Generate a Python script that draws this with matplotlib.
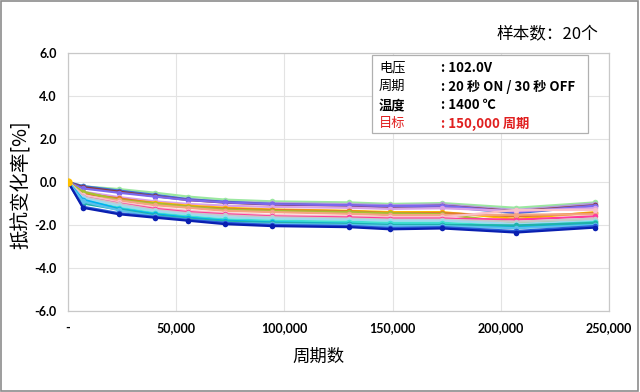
import matplotlib
matplotlib.use('Agg')
import matplotlib.pyplot as plt
from matplotlib.patches import Rectangle
from matplotlib.ticker import FuncFormatter, MultipleLocator

plt.rcParams['font.family'] = ['Noto Sans CJK SC', 'DejaVu Sans']

cycles = [0, 6900, 23600, 40300, 55600, 72700, 94400, 130000, 149000, 173000, 207000, 243500]

series = {
    '#9be8a0': [0, -0.20, -0.33, -0.50, -0.68, -0.82, -0.90, -0.95, -1.02, -0.98, -1.20, -0.95],
    '#b39ddb': [0, -0.28, -0.42, -0.62, -0.80, -0.92, -0.98, -1.03, -1.08, -1.04, -1.30, -1.00],
    '#3f6fd8': [0, -0.19, -0.40, -0.60, -0.80, -0.92, -1.02, -1.10, -1.18, -1.14, -1.45, -1.12],
    '#8b3a3a': [0, -0.24, -0.45, -0.66, -0.84, -0.96, -1.05, -1.10, -1.15, -1.10, -1.36, -1.08],
    '#7b68ee': [0, -0.30, -0.50, -0.68, -0.84, -0.95, -1.03, -1.08, -1.12, -1.10, -1.40, -1.10],
    '#d9a0e8': [0, -0.45, -0.70, -0.90, -1.02, -1.10, -1.16, -1.20, -1.25, -1.22, -1.35, -1.22],
    '#ffc000': [0, -0.50, -0.80, -0.96, -1.10, -1.20, -1.28, -1.34, -1.40, -1.40, -1.72, -1.40],
    '#e07b2a': [0, -0.55, -0.76, -1.00, -1.14, -1.24, -1.30, -1.36, -1.44, -1.44, -1.60, -1.45],
    '#a8c030': [0, -0.45, -0.84, -1.00, -1.15, -1.28, -1.35, -1.40, -1.46, -1.50, -1.90, -1.80],
    '#f4a582': [0, -0.65, -0.86, -1.08, -1.20, -1.34, -1.40, -1.48, -1.54, -1.54, -1.52, -1.50],
    '#f9c0cb': [0, -0.60, -0.95, -1.20, -1.34, -1.45, -1.54, -1.60, -1.64, -1.64, -1.30, -1.30],
    '#ff3c9c': [0, -0.70, -1.00, -1.25, -1.40, -1.50, -1.60, -1.65, -1.70, -1.70, -1.75, -1.60],
    '#c8c8c8': [0, -0.70, -1.02, -1.30, -1.45, -1.55, -1.64, -1.70, -1.75, -1.75, -1.85, -1.70],
    '#9fd8f0': [0, -0.75, -1.10, -1.35, -1.50, -1.64, -1.70, -1.75, -1.80, -1.80, -1.95, -1.80],
    '#40e0d0': [0, -0.85, -1.20, -1.45, -1.60, -1.74, -1.80, -1.85, -1.90, -1.90, -2.05, -1.86],
    '#00b0f0': [0, -0.82, -1.25, -1.50, -1.66, -1.80, -1.88, -1.94, -2.00, -2.00, -2.10, -1.95],
    '#20b2aa': [0, -1.00, -1.28, -1.55, -1.70, -1.84, -1.90, -1.95, -2.00, -2.00, -2.02, -1.90],
    '#5bc0eb': [0, -0.90, -1.32, -1.60, -1.75, -1.90, -1.95, -2.00, -2.05, -2.05, -2.15, -2.00],
    '#2a5bd7': [0, -1.15, -1.45, -1.62, -1.76, -1.90, -2.00, -2.05, -2.14, -2.10, -2.28, -2.05],
    '#0a1fb0': [0, -1.20, -1.50, -1.66, -1.80, -1.96, -2.05, -2.10, -2.20, -2.16, -2.35, -2.12],
}

W, H = 640, 392


def px(x, y):
    return x / W, 1 - y / H


fig = plt.figure(figsize=(6.4, 3.92), dpi=100)
fig.patches.append(Rectangle((0.001, 0.002), 0.996, 0.995, transform=fig.transFigure,
                             fill=False, edgecolor='#8c8c8c', linewidth=1.2))

l, b = px(68, 311)
r, t = px(609, 53)
ax = fig.add_axes([l, b, r - l, t - b])

for color, vals in series.items():
    ax.plot(cycles, vals, color=color, linewidth=1.6, marker='o', markersize=4,
            markeredgewidth=0, zorder=3)
# the yellow start point sits on top
ax.plot([0], [0], 'o', color='#ffc000', markersize=5, zorder=4)

ax.set_xlim(0, 250000)
ax.set_ylim(-6, 6)
ax.xaxis.set_major_locator(MultipleLocator(50000))
ax.yaxis.set_major_locator(MultipleLocator(2))
ax.xaxis.set_major_formatter(FuncFormatter(lambda v, p: '-' if v == 0 else f'{int(v):,}'))
ax.yaxis.set_major_formatter(FuncFormatter(lambda v, p: f'{v:.1f}'))
ax.grid(True, color='#e3e3e3', linewidth=0.8, zorder=0)
ax.tick_params(length=0, labelsize=9, pad=8)
for lab in ax.get_xticklabels() + ax.get_yticklabels():
    lab.set_fontweight('bold')
    lab.set_family(['Lato', 'DejaVu Sans'])
for s in ax.spines.values():
    s.set_color('#c8c8c8')
    s.set_linewidth(0.9)

fig.text(*px(21, 185), '抵抗变化率[%]', rotation=90, ha='center', va='center', fontsize=14)
fig.text(*px(318, 357), '周期数', ha='center', va='center', fontsize=12.5)
fig.text(*px(598, 35), '样本数：20个', ha='right', va='center', fontsize=12)

# info box
bx0, by0 = px(372, 133)
bx1, by1 = px(588, 55)
fig.patches.append(Rectangle((bx0, by0), bx1 - bx0, by1 - by0, transform=fig.transFigure,
                             facecolor='white', edgecolor='#b0b0b0', linewidth=0.9, zorder=5))
info = [
    ('电压', ': 102.0V', 'black', 'normal'),
    ('周期', ': 20 秒 ON / 30 秒 OFF', 'black', 'normal'),
    ('温度', ': 1400 ℃', 'black', 'bold'),
    ('目标', ': 150,000 周期', '#e02020', 'normal'),
]
for i, (k, v, c, w) in enumerate(info):
    y = 68 + i * 18.5
    fig.text(*px(379, y), k, ha='left', va='center', fontsize=9.5, color=c,
             fontweight=w, zorder=6)
    fig.text(*px(441, y), v, ha='left', va='center', fontsize=9.5, color=c,
             fontweight='bold', zorder=6)

plt.savefig('out.png', dpi=100)
